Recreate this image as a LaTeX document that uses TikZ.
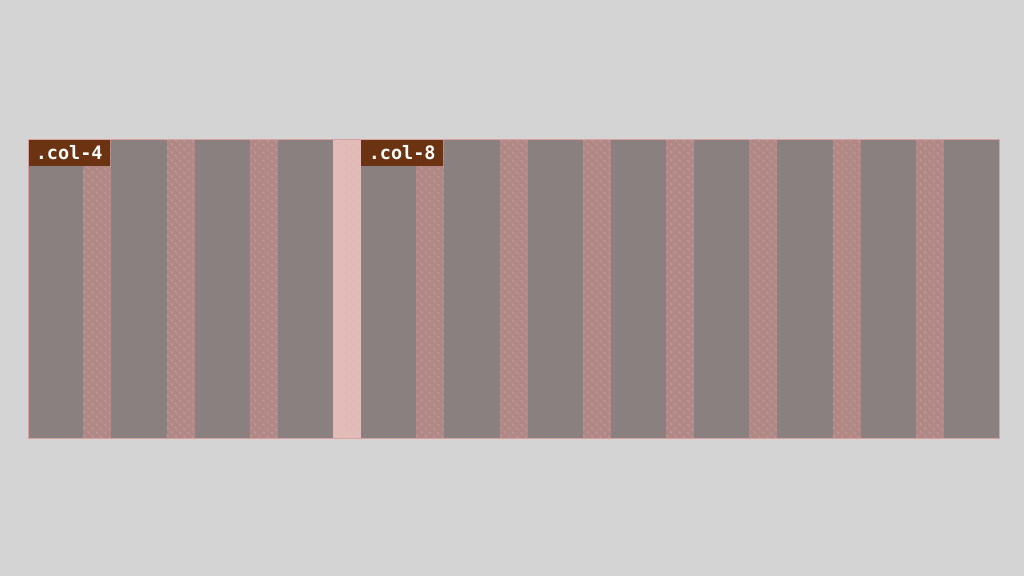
\documentclass[tikz,border=0pt]{standalone}
\usepackage{fontspec}
\newfontfamily\labmono{DejaVu Sans Mono}
\definecolor{bg}{HTML}{D4D4D4}
\definecolor{colc}{HTML}{8A807F}
\definecolor{gut}{HTML}{B08886}
\definecolor{midgut}{HTML}{E2BCB8}
\definecolor{lab}{HTML}{6B3312}
\definecolor{edgec}{HTML}{D9A0A0}
\definecolor{hatchc}{HTML}{E8B0AE}
\tikzset{
  labelbox/.style={fill=lab, text=white, font=\labmono\bfseries\fontsize{18.5}{18.5}\selectfont,
    minimum width=82, minimum height=27, inner sep=0, anchor=north west},
  hatchline/.style={draw=hatchc, line width=1, opacity=0.45, dash pattern=on 3 off 3},
  gridcol/.style={fill=colc}
}
\begin{document}
\begin{tikzpicture}[x=1pt,y=-1pt]
\fill[bg] (0,0) rectangle (1024,576);
\useasboundingbox (0,0) rectangle (1024,576);
\fill[gridcol] (28,139) rectangle (999,438);
\foreach \j in {0,...,10}{
  \pgfmathsetmacro\gx{28+(\j+1)*55.25+\j*28}
  \ifnum\j=3 \def\gc{midgut}\else\def\gc{gut}\fi
  \begin{scope}
    \fill[\gc] (\gx,139) rectangle ++(28,299);
    \clip (\gx,139) rectangle ++(28,299);
    \foreach \k in {-40,-32,...,304} \draw[hatchline] (\gx,139+\k) -- ++(28,28);
  \end{scope}
}
\node[labelbox] (l4) at (28,139) {.col-4};
\node[labelbox] (l8) at (361,139) {.col-8};
\draw[edgec, line width=1] (28,139) rectangle (999,438);
\end{tikzpicture}
\end{document}
